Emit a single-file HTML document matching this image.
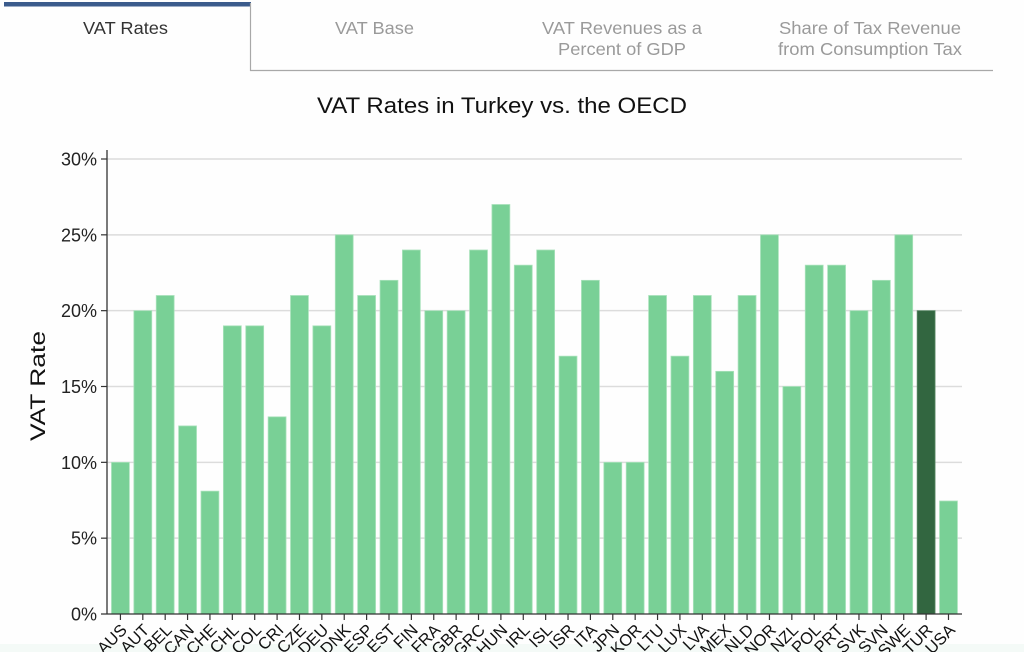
<!DOCTYPE html>
<html><head><meta charset="utf-8"><style>
html,body{margin:0;padding:0;background:#fff;}
svg{display:block;font-family:"Liberation Sans",Arial,sans-serif;}
</style></head><body>
<svg width="1024" height="652" viewBox="0 0 1024 652" xmlns="http://www.w3.org/2000/svg">
<rect x="0" y="0" width="1024" height="652" fill="#fefefe"/>
<rect x="0" y="644" width="1024" height="8" fill="#f4faf7"/>
<!-- tabs -->
<rect x="4" y="2" width="247" height="4.5" fill="#3b5b8c"/>
<line x1="250.5" y1="3" x2="250.5" y2="71" stroke="#a8a8a8" stroke-width="1.2"/>
<line x1="250" y1="70.5" x2="993" y2="70.5" stroke="#a8a8a8" stroke-width="1.2"/>
<g font-size="17.5" text-anchor="middle">
<text x="125.5" y="34" fill="#333" textLength="85" lengthAdjust="spacingAndGlyphs">VAT Rates</text>
<text x="374.5" y="34" fill="#9a9a9a" textLength="79" lengthAdjust="spacingAndGlyphs">VAT Base</text>
<text x="622" y="34" fill="#9a9a9a" textLength="160" lengthAdjust="spacingAndGlyphs">VAT Revenues as a</text>
<text x="622" y="55" fill="#9a9a9a" textLength="128" lengthAdjust="spacingAndGlyphs">Percent of GDP</text>
<text x="870" y="34" fill="#9a9a9a" textLength="182" lengthAdjust="spacingAndGlyphs">Share of Tax Revenue</text>
<text x="870" y="55" fill="#9a9a9a" textLength="184" lengthAdjust="spacingAndGlyphs">from Consumption Tax</text>
</g>
<!-- title -->
<text x="502" y="113" font-size="22.5" text-anchor="middle" fill="#111" textLength="370" lengthAdjust="spacingAndGlyphs">VAT Rates in Turkey vs. the OECD</text>
<!-- gridlines -->
<g stroke="#dcdcdc" stroke-width="1.5">
<line x1="107" y1="538.17" x2="962" y2="538.17"/>
<line x1="107" y1="462.33" x2="962" y2="462.33"/>
<line x1="107" y1="386.5" x2="962" y2="386.5"/>
<line x1="107" y1="310.67" x2="962" y2="310.67"/>
<line x1="107" y1="234.83" x2="962" y2="234.83"/>
<line x1="107" y1="159" x2="962" y2="159"/>
</g>
<!-- bars -->
<g fill="#79d096" stroke="#a9e2bb" stroke-width="0.8">
<rect x="111.48" y="462.33" width="17.9" height="151.67"/>
<rect x="133.86" y="310.67" width="17.9" height="303.33"/>
<rect x="156.24" y="295.5" width="17.9" height="318.5"/>
<rect x="178.62" y="425.93" width="17.9" height="188.07"/>
<rect x="201.00" y="491.15" width="17.9" height="122.85"/>
<rect x="223.38" y="325.83" width="17.9" height="288.17"/>
<rect x="245.76" y="325.83" width="17.9" height="288.17"/>
<rect x="268.14" y="416.83" width="17.9" height="197.17"/>
<rect x="290.52" y="295.5" width="17.9" height="318.5"/>
<rect x="312.90" y="325.83" width="17.9" height="288.17"/>
<rect x="335.28" y="234.83" width="17.9" height="379.17"/>
<rect x="357.66" y="295.5" width="17.9" height="318.5"/>
<rect x="380.04" y="280.33" width="17.9" height="333.67"/>
<rect x="402.42" y="250" width="17.9" height="364"/>
<rect x="424.80" y="310.67" width="17.9" height="303.33"/>
<rect x="447.18" y="310.67" width="17.9" height="303.33"/>
<rect x="469.56" y="250" width="17.9" height="364"/>
<rect x="491.94" y="204.5" width="17.9" height="409.5"/>
<rect x="514.32" y="265.17" width="17.9" height="348.83"/>
<rect x="536.70" y="250" width="17.9" height="364"/>
<rect x="559.08" y="356.17" width="17.9" height="257.83"/>
<rect x="581.46" y="280.33" width="17.9" height="333.67"/>
<rect x="603.84" y="462.33" width="17.9" height="151.67"/>
<rect x="626.22" y="462.33" width="17.9" height="151.67"/>
<rect x="648.60" y="295.5" width="17.9" height="318.5"/>
<rect x="670.98" y="356.17" width="17.9" height="257.83"/>
<rect x="693.36" y="295.5" width="17.9" height="318.5"/>
<rect x="715.74" y="371.33" width="17.9" height="242.67"/>
<rect x="738.12" y="295.5" width="17.9" height="318.5"/>
<rect x="760.50" y="234.83" width="17.9" height="379.17"/>
<rect x="782.88" y="386.5" width="17.9" height="227.5"/>
<rect x="805.26" y="265.17" width="17.9" height="348.83"/>
<rect x="827.64" y="265.17" width="17.9" height="348.83"/>
<rect x="850.02" y="310.67" width="17.9" height="303.33"/>
<rect x="872.40" y="280.33" width="17.9" height="333.67"/>
<rect x="894.78" y="234.83" width="17.9" height="379.17"/>
<rect x="939.54" y="501" width="17.9" height="113"/>
</g>
<rect x="917.16" y="310.67" width="17.9" height="303.33" fill="#326640" stroke="#5a8a66" stroke-width="0.8"/>
<!-- axes -->
<line x1="107" y1="150" x2="107" y2="614.5" stroke="#333" stroke-width="1.3"/>
<line x1="101" y1="614" x2="962" y2="614" stroke="#333" stroke-width="1.3"/>
<g stroke="#333" stroke-width="1.2">
<line x1="101" y1="538.17" x2="107" y2="538.17"/>
<line x1="101" y1="462.33" x2="107" y2="462.33"/>
<line x1="101" y1="386.5" x2="107" y2="386.5"/>
<line x1="101" y1="310.67" x2="107" y2="310.67"/>
<line x1="101" y1="234.83" x2="107" y2="234.83"/>
<line x1="101" y1="159" x2="107" y2="159"/>
</g>
<g font-size="18" text-anchor="end" fill="#222">
<text x="97" y="620.5">0%</text>
<text x="97" y="544.67">5%</text>
<text x="97" y="468.83">10%</text>
<text x="97" y="393">15%</text>
<text x="97" y="317.17">20%</text>
<text x="97" y="241.33">25%</text>
<text x="97" y="165.5">30%</text>
</g>
<text transform="translate(45,386) rotate(-90)" font-size="21" text-anchor="middle" fill="#111" textLength="110" lengthAdjust="spacingAndGlyphs">VAT Rate</text>
<!-- x ticks -->
<g stroke="#333" stroke-width="1.2">
<line x1="120.43" y1="614" x2="120.43" y2="620"/><line x1="142.81" y1="614" x2="142.81" y2="620"/><line x1="165.19" y1="614" x2="165.19" y2="620"/><line x1="187.57" y1="614" x2="187.57" y2="620"/><line x1="209.95" y1="614" x2="209.95" y2="620"/><line x1="232.33" y1="614" x2="232.33" y2="620"/><line x1="254.71" y1="614" x2="254.71" y2="620"/><line x1="277.09" y1="614" x2="277.09" y2="620"/><line x1="299.47" y1="614" x2="299.47" y2="620"/><line x1="321.85" y1="614" x2="321.85" y2="620"/><line x1="344.23" y1="614" x2="344.23" y2="620"/><line x1="366.61" y1="614" x2="366.61" y2="620"/><line x1="388.99" y1="614" x2="388.99" y2="620"/><line x1="411.37" y1="614" x2="411.37" y2="620"/><line x1="433.75" y1="614" x2="433.75" y2="620"/><line x1="456.13" y1="614" x2="456.13" y2="620"/><line x1="478.51" y1="614" x2="478.51" y2="620"/><line x1="500.89" y1="614" x2="500.89" y2="620"/><line x1="523.27" y1="614" x2="523.27" y2="620"/><line x1="545.65" y1="614" x2="545.65" y2="620"/><line x1="568.03" y1="614" x2="568.03" y2="620"/><line x1="590.41" y1="614" x2="590.41" y2="620"/><line x1="612.79" y1="614" x2="612.79" y2="620"/><line x1="635.17" y1="614" x2="635.17" y2="620"/><line x1="657.55" y1="614" x2="657.55" y2="620"/><line x1="679.93" y1="614" x2="679.93" y2="620"/><line x1="702.31" y1="614" x2="702.31" y2="620"/><line x1="724.69" y1="614" x2="724.69" y2="620"/><line x1="747.07" y1="614" x2="747.07" y2="620"/><line x1="769.45" y1="614" x2="769.45" y2="620"/><line x1="791.83" y1="614" x2="791.83" y2="620"/><line x1="814.21" y1="614" x2="814.21" y2="620"/><line x1="836.59" y1="614" x2="836.59" y2="620"/><line x1="858.97" y1="614" x2="858.97" y2="620"/><line x1="881.35" y1="614" x2="881.35" y2="620"/><line x1="903.73" y1="614" x2="903.73" y2="620"/><line x1="926.11" y1="614" x2="926.11" y2="620"/><line x1="948.49" y1="614" x2="948.49" y2="620"/>
</g>
<g font-size="16.5" text-anchor="end" fill="#111">
<text transform="translate(127.9,631) rotate(-45)">AUS</text>
<text transform="translate(150.3,631) rotate(-45)">AUT</text>
<text transform="translate(172.7,631) rotate(-45)">BEL</text>
<text transform="translate(195.1,631) rotate(-45)">CAN</text>
<text transform="translate(217.5,631) rotate(-45)">CHE</text>
<text transform="translate(239.8,631) rotate(-45)">CHL</text>
<text transform="translate(262.2,631) rotate(-45)">COL</text>
<text transform="translate(284.6,631) rotate(-45)">CRI</text>
<text transform="translate(307.0,631) rotate(-45)">CZE</text>
<text transform="translate(329.4,631) rotate(-45)">DEU</text>
<text transform="translate(351.7,631) rotate(-45)">DNK</text>
<text transform="translate(374.1,631) rotate(-45)">ESP</text>
<text transform="translate(396.5,631) rotate(-45)">EST</text>
<text transform="translate(418.9,631) rotate(-45)">FIN</text>
<text transform="translate(441.3,631) rotate(-45)">FRA</text>
<text transform="translate(463.6,631) rotate(-45)">GBR</text>
<text transform="translate(486.0,631) rotate(-45)">GRC</text>
<text transform="translate(508.4,631) rotate(-45)">HUN</text>
<text transform="translate(530.8,631) rotate(-45)">IRL</text>
<text transform="translate(553.2,631) rotate(-45)">ISL</text>
<text transform="translate(575.5,631) rotate(-45)">ISR</text>
<text transform="translate(597.9,631) rotate(-45)">ITA</text>
<text transform="translate(620.3,631) rotate(-45)">JPN</text>
<text transform="translate(642.7,631) rotate(-45)">KOR</text>
<text transform="translate(665.1,631) rotate(-45)">LTU</text>
<text transform="translate(687.4,631) rotate(-45)">LUX</text>
<text transform="translate(709.8,631) rotate(-45)">LVA</text>
<text transform="translate(732.2,631) rotate(-45)">MEX</text>
<text transform="translate(754.6,631) rotate(-45)">NLD</text>
<text transform="translate(777.0,631) rotate(-45)">NOR</text>
<text transform="translate(799.3,631) rotate(-45)">NZL</text>
<text transform="translate(821.7,631) rotate(-45)">POL</text>
<text transform="translate(844.1,631) rotate(-45)">PRT</text>
<text transform="translate(866.5,631) rotate(-45)">SVK</text>
<text transform="translate(888.9,631) rotate(-45)">SVN</text>
<text transform="translate(911.2,631) rotate(-45)">SWE</text>
<text transform="translate(933.6,631) rotate(-45)">TUR</text>
<text transform="translate(956.0,631) rotate(-45)">USA</text>
</g>
</svg>
</body></html>
